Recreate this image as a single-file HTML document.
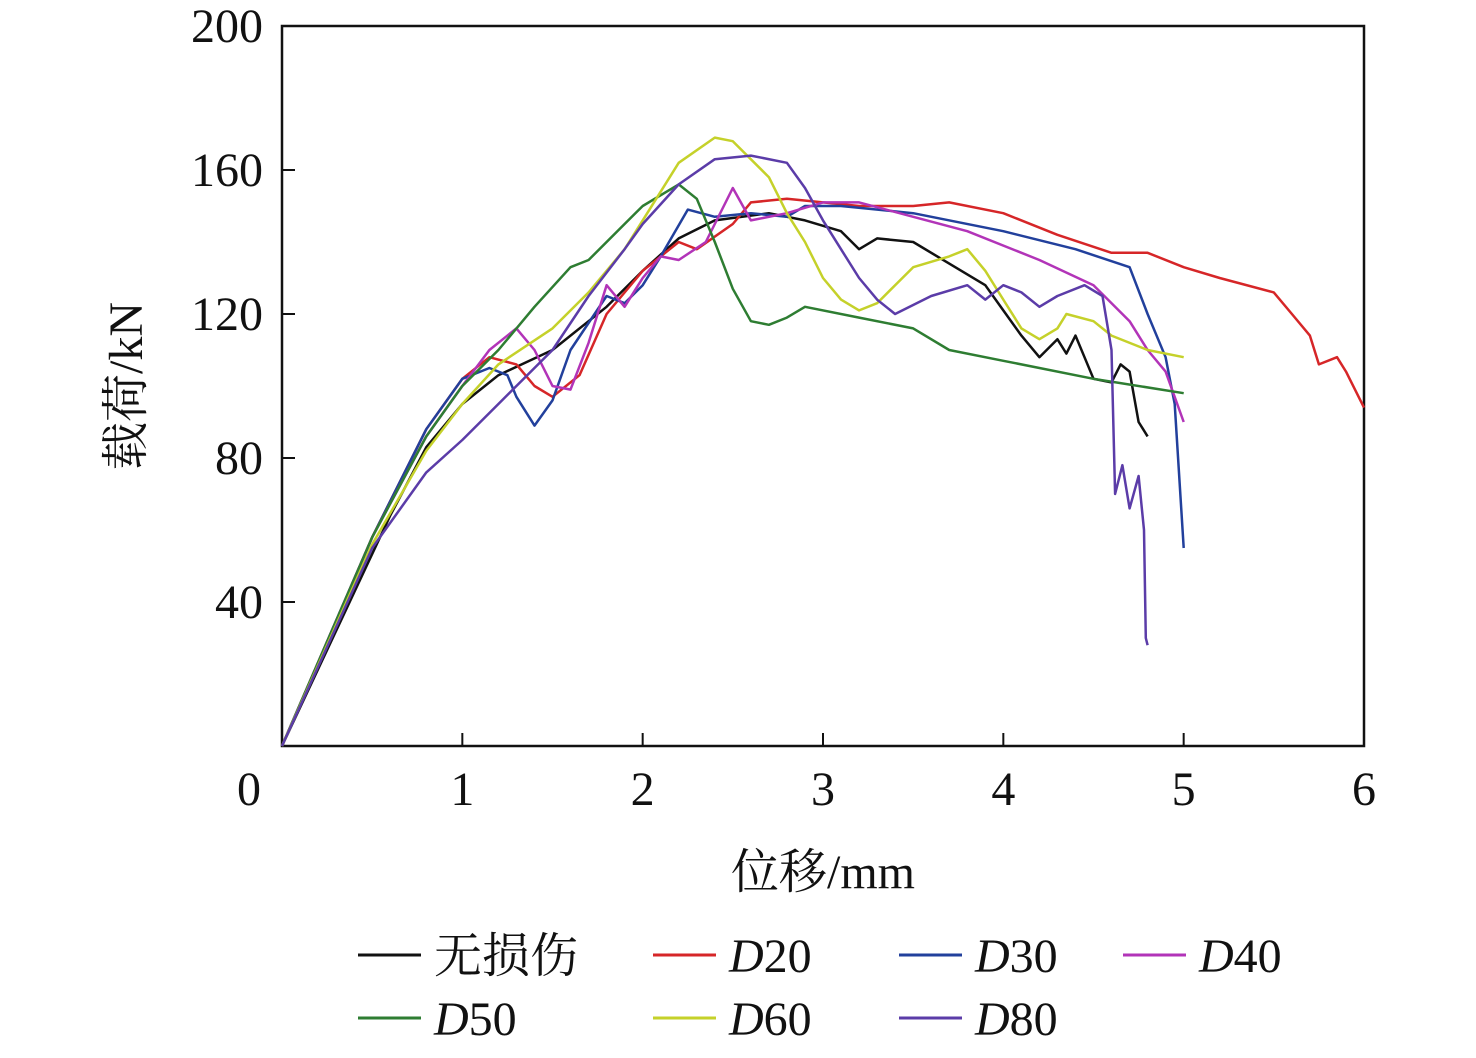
<!DOCTYPE html>
<html><head><meta charset="utf-8"><style>
html,body{margin:0;padding:0;background:#fff;}
svg text{font-family:"Liberation Serif","Noto Serif CJK SC",serif;fill:#111;}
</style></head><body>
<svg id="chart" width="1476" height="1053" viewBox="0 0 1476 1053" xmlns="http://www.w3.org/2000/svg">
<g id="grid"></g>
<g id="series"></g>
<g id="legend"></g>
</svg>
<script>
const xTicks=[0,1,2,3,4,5,6];
const yTicks=[40,80,120,160,200];
const seriesNames=["无损伤","D20","D30","D40","D50","D60","D80"];
const s0=[[0,0],[0.3,32],[0.6,64],[0.8,83],[1.0,95],[1.2,103],[1.5,110],[1.8,122],[2.0,132],[2.2,141],[2.4,146],[2.7,148],[2.9,146],[3.1,143],[3.2,138],[3.3,141],[3.5,140],[3.7,134],[3.9,128],[4.0,121],[4.1,114],[4.2,108],[4.3,113],[4.35,109],[4.4,114],[4.45,108],[4.5,102],[4.6,101],[4.65,106],[4.7,104],[4.75,90],[4.8,86]];
const s1=[[0,0],[0.5,58],[0.8,88],[1.0,102],[1.15,108],[1.3,106],[1.4,100],[1.5,97],[1.65,103],[1.8,120],[2.0,132],[2.2,140],[2.3,138],[2.5,145],[2.6,151],[2.8,152],[3.0,151],[3.2,150],[3.5,150],[3.7,151],[4.0,148],[4.3,142],[4.6,137],[4.8,137],[5.0,133],[5.2,130],[5.5,126],[5.6,120],[5.7,114],[5.75,106],[5.85,108],[5.9,104],[6.0,94]];
const s2=[[0,0],[0.5,58],[0.8,88],[1.0,102],[1.15,105],[1.25,103],[1.3,97],[1.4,89],[1.5,96],[1.6,110],[1.8,125],[1.9,123],[2.0,128],[2.1,136],[2.25,149],[2.4,147],[2.6,148],[2.8,147],[2.9,150],[3.1,150],[3.5,148],[4.0,143],[4.4,138],[4.7,133],[4.8,120],[4.9,108],[4.95,95],[5.0,55]];
const s3=[[0,0],[0.5,58],[0.8,86],[1.0,100],[1.15,110],[1.3,116],[1.4,110],[1.5,100],[1.6,99],[1.7,112],[1.8,128],[1.9,122],[2.0,130],[2.1,136],[2.2,135],[2.35,140],[2.5,155],[2.6,146],[2.8,148],[3.0,151],[3.2,151],[3.5,147],[3.8,143],[4.2,135],[4.5,128],[4.7,118],[4.8,110],[4.9,104],[5.0,90]];
const s4=[[0,0],[0.5,58],[0.8,86],[1.0,100],[1.2,110],[1.4,122],[1.6,133],[1.7,135],[1.9,145],[2.0,150],[2.2,156],[2.3,152],[2.4,140],[2.5,127],[2.6,118],[2.7,117],[2.8,119],[2.9,122],[3.2,119],[3.5,116],[3.7,110],[4.0,107],[4.5,102],[5.0,98]];
const s5=[[0,0],[0.5,56],[0.8,82],[1.0,95],[1.2,106],[1.5,116],[1.7,126],[1.9,138],[2.0,146],[2.2,162],[2.4,169],[2.5,168],[2.7,158],[2.8,148],[2.9,140],[3.0,130],[3.1,124],[3.2,121],[3.3,123],[3.4,128],[3.5,133],[3.7,136],[3.8,138],[3.9,132],[4.0,124],[4.1,116],[4.2,113],[4.3,116],[4.35,120],[4.5,118],[4.6,114],[4.8,110],[5.0,108]];
const s6=[[0,0],[0.5,55],[0.8,76],[1.0,85],[1.2,95],[1.5,110],[1.7,125],[1.9,138],[2.0,145],[2.2,156],[2.4,163],[2.6,164],[2.8,162],[2.9,155],[3.0,146],[3.1,138],[3.2,130],[3.3,124],[3.4,120],[3.6,125],[3.8,128],[3.9,124],[4.0,128],[4.1,126],[4.2,122],[4.3,125],[4.45,128],[4.55,125],[4.6,110],[4.62,70],[4.66,78],[4.7,66],[4.75,75],[4.78,60],[4.79,30],[4.8,28]];
const allSeries=[s0,s1,s2,s3,s4,s5,s6];
const colors=["#111111","#d62628","#22409c","#b234b8","#2e7d32","#c5d12a","#5b3ca8"];
const NS="http://www.w3.org/2000/svg";
const X0=282,X1=1364,Y0=746,Y1=26;
const xs=v=>X0+(X1-X0)*v/6;
const ys=v=>Y0-(Y0-Y1)*v/200;
function mk(tag,attrs,parent){const e=document.createElementNS(NS,tag);for(const k in attrs)e.setAttribute(k,attrs[k]);parent.appendChild(e);return e;}
const grid=document.getElementById('grid');
const frame=mk('rect',{x:X0,y:Y1,width:X1-X0,height:Y0-Y1,fill:'none',stroke:'#111','stroke-width':2.5},grid);


xTicks.forEach(t=>{
  if(t>0&&t<6){const l=mk('line',{x1:xs(t),x2:xs(t),y1:Y0,y2:Y0-13,stroke:'#111','stroke-width':2},grid);
  
  }
  const tx=mk('text',{x:t===0?249:xs(t),y:805,'font-size':48,'text-anchor':'middle'},grid);tx.textContent=t;
  
  
});
yTicks.forEach(t=>{
  if(t<200){const l=mk('line',{x1:X0,x2:X0+13,y1:ys(t),y2:ys(t),stroke:'#111','stroke-width':2},grid);
  
  }
  const tx=mk('text',{x:263,y:ys(t)+16,'font-size':48,'text-anchor':'end'},grid);tx.textContent=t;
  
  
});
const xt=mk('text',{x:823,y:888,'font-size':48,'text-anchor':'middle'},grid);xt.textContent='位移/mm';


const yt=mk('text',{x:0,y:0,'font-size':48,'text-anchor':'middle',transform:'translate(142,386) rotate(-90)'},grid);yt.textContent='载荷/kN';


const sg=document.getElementById('series');
allSeries.forEach((s,i)=>{
  const d=s.map((p,j)=>(j?'L':'M')+xs(p[0]).toFixed(1)+','+ys(p[1]).toFixed(1)).join(' ');
  const p=mk('path',{d:d,fill:'none',stroke:colors[i],'stroke-width':2.5,'stroke-linejoin':'round'},sg);
  
  
});
const lg=document.getElementById('legend');
const lx=[358,653,899,1123],ly=[955,1018];
seriesNames.forEach((n,i)=>{
  const r=i<4?0:1,c=i%4,x=lx[c],y=ly[r];
  const g=mk('g',{},lg);
  
  
  mk('line',{x1:x,x2:x+63,y1:y,y2:y,stroke:colors[i],'stroke-width':3},g);
  const t=mk('text',{x:x+76,y:y+17,'font-size':48},g);
  if(i===0){t.textContent=n;}else{
    const it=document.createElementNS(NS,'tspan');it.setAttribute('font-style','italic');it.textContent='D';t.appendChild(it);
    t.appendChild(document.createTextNode(n.slice(1)));
  }
});
</script>
</body></html>
